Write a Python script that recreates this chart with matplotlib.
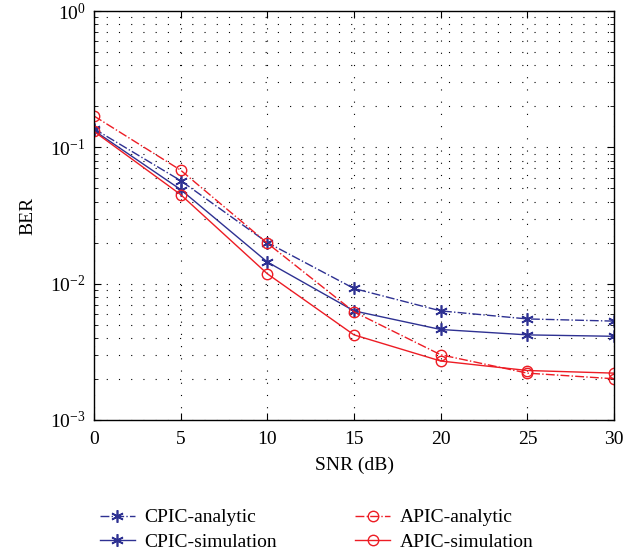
import matplotlib
matplotlib.use("Agg")
import matplotlib.pyplot as plt
from matplotlib.ticker import LogLocator, NullFormatter

snr = [0, 5, 10, 15, 20, 25, 30]
cpic_analytic = [0.137, 0.057, 0.0200, 0.0092, 0.0063, 0.0055, 0.0053]
cpic_sim = [0.133, 0.049, 0.0144, 0.0063, 0.0046, 0.0042, 0.0041]
apic_analytic = [0.170, 0.068, 0.0198, 0.0062, 0.0030, 0.0022, 0.0020]
apic_sim = [0.131, 0.045, 0.0118, 0.0042, 0.0027, 0.0023, 0.0022]
labels = ["CPIC-analytic", "CPIC-simulation", "APIC-analytic", "APIC-simulation"]

plt.rcParams['font.family'] = ['Liberation Serif', 'DejaVu Serif']
plt.rcParams['mathtext.fontset'] = 'stix'

blue = '#2E3192'
red = '#ED1C24'
star = (6, 2, 0)

fig = plt.figure(figsize=(6.39, 5.56), dpi=100)
ax = fig.add_axes([0.147, 0.245, 0.814, 0.735])

l1, = ax.semilogy(snr, cpic_analytic, color=blue, ls='-.', lw=1.0, marker=star, ms=9, mew=1.2, label=labels[0])
l2, = ax.semilogy(snr, cpic_sim, color=blue, ls='-', lw=1.0, marker=star, ms=9, mew=1.2, label=labels[1])
l3, = ax.semilogy(snr, apic_analytic, color=red, ls='-.', lw=1.0, marker='o', ms=7.5, mfc='none', label=labels[2])
l4, = ax.semilogy(snr, apic_sim, color=red, ls='-', lw=1.0, marker='o', ms=7.5, mfc='none', label=labels[3])

ax.set_xlim(0, 30)
ax.set_ylim(1e-3, 1)
ax.set_xticks([0, 5, 10, 15, 20, 25, 30])
ax.yaxis.set_major_locator(LogLocator(base=10, numticks=10))
ax.yaxis.set_minor_locator(LogLocator(base=10, subs=range(2, 10), numticks=20))
ax.yaxis.set_minor_formatter(NullFormatter())
ax.tick_params(which='both', direction='in', top=True, right=True, labelsize=14)
ax.tick_params(axis='x', pad=8)
ax.tick_params(axis='y', pad=6)
ax.tick_params(which='major', length=5)
ax.tick_params(which='minor', length=3)
ax.grid(True, which='major', axis='x', color='black', ls=(0, (1, 10)), lw=0.8)
ax.grid(True, which='both', axis='y', color='black', ls=(0, (1, 10)), lw=0.8)
for s in ax.spines.values():
    s.set_linewidth(1.0)

ax.set_xlabel("SNR (dB)", fontsize=14, labelpad=6)
ax.set_ylabel("BER", fontsize=14, labelpad=10)

common = dict(frameon=False, fontsize=14, handlelength=1.8, handletextpad=0.5,
              labelspacing=0.35, borderpad=0, borderaxespad=0, loc='upper left')
leg1 = fig.legend(handles=[l1, l2], bbox_to_anchor=(0.156, 0.085), **common)
leg2 = fig.legend(handles=[l3, l4], bbox_to_anchor=(0.556, 0.085), **common)

fig.savefig("out.png", dpi=100)
